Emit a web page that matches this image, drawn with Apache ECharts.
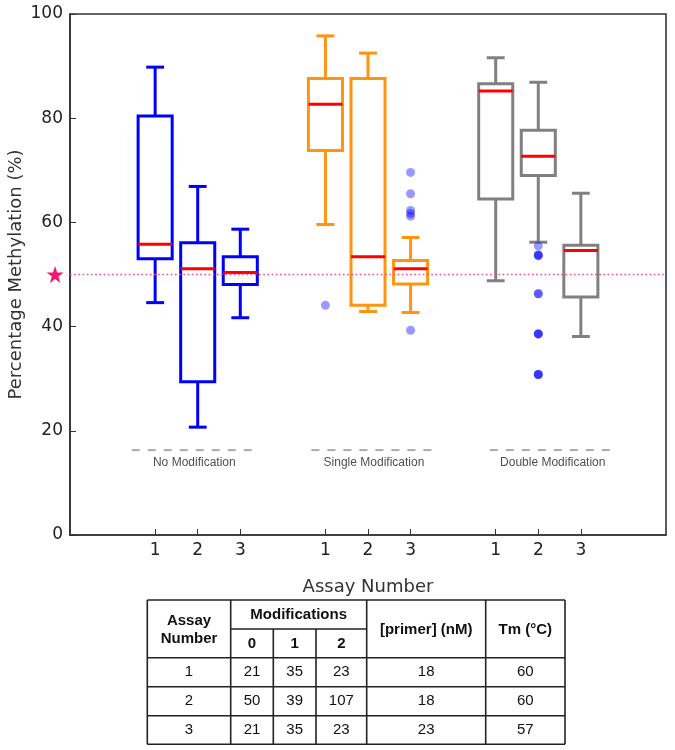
<!DOCTYPE html>
<html>
<head>
<meta charset="utf-8">
<script src="https://cdn.jsdelivr.net/npm/echarts@6/dist/echarts.min.js"></script>
<style>html,body{margin:0;padding:0;background:#fff}#c{width:675px;height:750px}</style>
</head>
<body>
<div id="c"></div>
<script>
// ---- data ----
const positions = [1, 2, 3, 5, 6, 7, 9, 10, 11];
const tickLabels = ['1', '2', '3', '1', '2', '3', '1', '2', '3'];
// [min, Q1, median, Q3, max]
const noModStats = [[44.6, 53.0, 55.8, 80.4, 89.8], [20.7, 29.4, 51.1, 56.1, 66.9], [41.7, 48.1, 50.4, 53.4, 58.7]];
const singleModStats = [[59.6, 73.8, 82.7, 87.6, 95.8], [42.9, 44.1, 53.4, 87.6, 92.5], [42.7, 48.2, 51.1, 52.7, 57.1]];
const doubleModStats = [[48.8, 64.5, 85.2, 86.6, 91.6], [56.2, 69.0, 72.7, 77.7, 86.9], [38.1, 45.7, 54.6, 55.6, 65.6]];
const singleOutliers = [[5, 44.1], [7, 69.6], [7, 65.5], [7, 62.3], [7, 61.7], [7, 61.2], [7, 39.3]];
const doubleOutliers = [[10, 55.5], [10, 53.7], [10, 53.8], [10, 53.6], [10, 46.3], [10, 46.3], [10, 38.6], [10, 38.6], [10, 38.6], [10, 30.8], [10, 30.8], [10, 30.8]];
const groupNames = ['No Modification', 'Single Modification', 'Double Modification'];
const groupLabelX = [1.92, 6.14, 10.34];
const groupLabelY = 13.9;
const groupLineRanges = [[0.45, 3.43], [4.67, 7.67], [8.86, 11.86]];
const groupLineY = 16.3;
const referenceValue = 50;
const yTicks = { min: 0, max: 100, interval: 20 };

const tableHeader = ['Assay\nNumber', 'Modifications', '[primer] (nM)', 'Tm (°C)'];
const modHeader = ['0', '1', '2'];
const tableRows = [
  ['1', '21', '35', '23', '18', '60'],
  ['2', '50', '39', '107', '18', '60'],
  ['3', '21', '35', '23', '23', '57']
];

// ---- helpers ----
function statsData(stats, offset) {
  return stats.map((s, i) => [positions[offset + i]].concat(s));
}
function boxRender(color) {
  return function (params, api) {
    const x = api.value(0);
    const lo = api.coord([x, api.value(1)]);
    const q1 = api.coord([x, api.value(2)]);
    const med = api.coord([x, api.value(3)]);
    const q3 = api.coord([x, api.value(4)]);
    const hi = api.coord([x, api.value(5)]);
    const bw = api.size([0.8, 0])[0];
    const cw = api.size([0.42, 0])[0];
    const px = lo[0];
    const st = { stroke: color, lineWidth: 3, fill: null };
    return {
      type: 'group',
      children: [
        { type: 'line', shape: { x1: px, y1: hi[1], x2: px, y2: q3[1] }, style: st },
        { type: 'line', shape: { x1: px, y1: q1[1], x2: px, y2: lo[1] }, style: st },
        { type: 'line', shape: { x1: px - cw / 2, y1: hi[1], x2: px + cw / 2, y2: hi[1] }, style: st },
        { type: 'line', shape: { x1: px - cw / 2, y1: lo[1], x2: px + cw / 2, y2: lo[1] }, style: st },
        { type: 'rect', shape: { x: px - bw / 2, y: q3[1], width: bw, height: q1[1] - q3[1] }, style: { stroke: color, lineWidth: 3, fill: 'rgba(255,255,255,0)' } },
        { type: 'line', shape: { x1: px - bw / 2, y1: med[1], x2: px + bw / 2, y2: med[1] }, style: { stroke: '#ff0000', lineWidth: 3 } }
      ]
    };
  };
}
function boxSeries(stats, offset, color) {
  return {
    type: 'custom',
    renderItem: boxRender(color),
    data: statsData(stats, offset),
    encode: { x: 0, y: [1, 2, 3, 4, 5] },
    z: 3,
    silent: true
  };
}

// ---- table graphic ----
const colX = [147.3, 230.7, 273.3, 316, 366.7, 485.7, 565];
const rowY = [600, 629, 657.7, 686.7, 715.7, 744.3];
const lineStyle = { stroke: '#222', lineWidth: 1.6 };
const g = [];
function hline(x1, x2, y) { g.push({ type: 'line', shape: { x1, y1: y, x2, y2: y }, style: lineStyle }); }
function vline(x, y1, y2) { g.push({ type: 'line', shape: { x1: x, y1, x2: x, y2 }, style: lineStyle }); }
hline(colX[0], colX[6], rowY[0]);
hline(colX[1], colX[4], rowY[1]);
hline(colX[0], colX[6], rowY[2]);
hline(colX[0], colX[6], rowY[3]);
hline(colX[0], colX[6], rowY[4]);
hline(colX[0], colX[6], rowY[5]);
vline(colX[0], rowY[0], rowY[5]);
vline(colX[1], rowY[0], rowY[5]);
vline(colX[2], rowY[1], rowY[5]);
vline(colX[3], rowY[1], rowY[5]);
vline(colX[4], rowY[0], rowY[5]);
vline(colX[5], rowY[0], rowY[5]);
vline(colX[6], rowY[0], rowY[5]);
function txt(s, x, y, bold) {
  g.push({
    type: 'text', x, y,
    style: {
      text: s, align: 'center', verticalAlign: 'middle',
      fontFamily: 'Liberation Sans, Arial, sans-serif', fontSize: 15,
      fontWeight: bold ? 'bold' : 'normal', fill: '#111', lineHeight: 18
    }
  });
}
const cx = i => (colX[i] + colX[i + 1]) / 2;
txt(tableHeader[0], cx(0), 629.5, true);
txt(tableHeader[1], (colX[1] + colX[4]) / 2, 615, true);
txt(tableHeader[2], cx(4), 630, true);
txt(tableHeader[3], cx(5), 630, true);
modHeader.forEach((m, i) => txt(m, cx(1 + i), 643.5, true));
tableRows.forEach((r, ri) => {
  const y = (rowY[2 + ri] + rowY[3 + ri]) / 2;
  r.forEach((v, ci) => txt(v, cx(ci), y, false));
});

// ---- chart ----
const chart = echarts.init(document.getElementById('c'), null, { renderer: 'canvas' });
const series = [
  boxSeries(noModStats, 0, '#0000ff'),
  boxSeries(singleModStats, 3, '#ff9410'),
  boxSeries(doubleModStats, 6, '#808080'),
  {
    type: 'scatter', data: singleOutliers.concat(doubleOutliers), symbolSize: 9, z: 5,
    itemStyle: { color: 'rgba(0,0,255,0.5)' }, silent: true
  },
  {
    type: 'line', data: [[-1, referenceValue], [13, referenceValue]], symbol: 'none', z: 4,
    lineStyle: { color: '#ff4a8a', width: 1.6, type: [1.6, 2.6] }, silent: true
  },
  {
    type: 'scatter', data: [[-1.35, referenceValue]], clip: false, z: 6, symbolSize: 17,
    symbol: 'path://M50,0 L61.8,35.1 L98.9,35.1 L68.9,56.8 L80.2,91.9 L50,70.2 L19.8,91.9 L31.1,56.8 L1.1,35.1 L38.2,35.1 Z',
    itemStyle: { color: '#f0186c', opacity: 1 }, silent: true
  },
  {
    type: 'scatter', symbolSize: 0, silent: true, z: 6,
    data: groupNames.map((n, i) => ({ name: n, value: [groupLabelX[i], groupLabelY] })),
    label: { show: true, position: 'inside', formatter: p => p.name, fontFamily: 'Liberation Sans, Arial, sans-serif', fontSize: 12, color: '#222' }
  }
].concat(groupLineRanges.map(r => ({
  type: 'line', data: [[r[0], groupLineY], [r[1], groupLineY]], symbol: 'none', silent: true, z: 4,
  lineStyle: { color: '#aaaaaa', width: 2, type: [8, 8] }
})));

chart.setOption({
  animation: false,
  grid: { left: 70, right: 9, top: 14, bottom: 215, show: true, borderColor: '#333', borderWidth: 1.6, backgroundColor: 'transparent', containLabel: false, outerBoundsMode: 'none' },
  xAxis: {
    type: 'value', min: -1, max: 13,
    name: 'Assay Number', nameLocation: 'middle', nameGap: 43, nameMoveOverlap: false,
    nameTextStyle: { fontFamily: 'DejaVu Sans', fontSize: 18, color: '#333' },
    axisLine: { show: true, onZero: false, lineStyle: { color: '#333', width: 1.6 } },
    axisTick: { show: true, inside: true, length: 6, customValues: positions, lineStyle: { color: '#333', width: 1 } },
    axisLabel: {
      customValues: positions, margin: 7,
      formatter: v => tickLabels[positions.indexOf(v)],
      fontFamily: 'DejaVu Sans', fontSize: 17, color: '#222'
    },
    splitLine: { show: false }
  },
  yAxis: {
    type: 'value', min: yTicks.min, max: yTicks.max, interval: yTicks.interval,
    name: 'Percentage Methylation (%)', nameLocation: 'middle', nameGap: 45, nameRotate: 90, nameMoveOverlap: false,
    nameTextStyle: { fontFamily: 'DejaVu Sans', fontSize: 18, color: '#333' },
    axisLine: { show: true, onZero: false, lineStyle: { color: '#333', width: 1.6 } },
    axisTick: { show: true, inside: true, length: 6, lineStyle: { color: '#333', width: 1 } },
    axisLabel: { fontFamily: 'DejaVu Sans', fontSize: 17, color: '#222', margin: 7 },
    splitLine: { show: false }
  },
  series: series,
  graphic: g
});
</script>
</body>
</html>
